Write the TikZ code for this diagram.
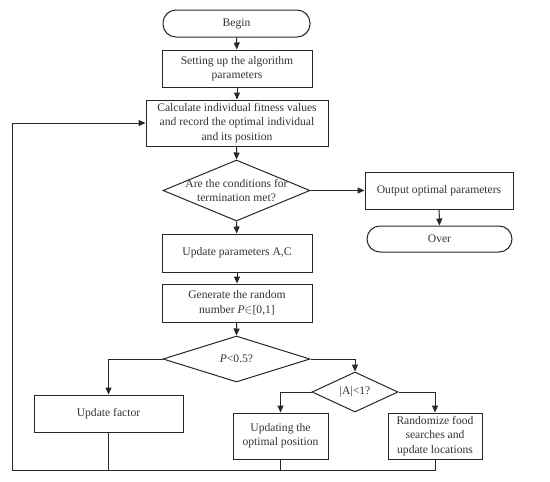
\documentclass[tikz,border=0pt]{standalone}
\usepackage{fontspec}
\setmainfont{Liberation Serif}
\usetikzlibrary{shapes.geometric,arrows.meta}
\begin{document}
\begin{tikzpicture}[x=1pt,y=-1pt,
  every node/.style={font=\fontsize{11.6}{14.3}\selectfont, text=black!80, align=center},
  box/.style={draw=black!85, line width=1pt, rectangle, inner sep=0pt},
  term/.style={draw=black!85, line width=1pt, rectangle, rounded corners=13pt, inner sep=0pt},
  dia/.style={draw=black!85, line width=1pt, diamond, inner sep=0pt},
  line/.style={draw=black!85, line width=1pt},
  arr/.style={line, -{Triangle[length=7pt,width=6pt]}}]
\useasboundingbox (0,0) rectangle (550,482);
% nodes
\node[term, minimum width=147pt, minimum height=27pt] (begin) at (236.5,23.5) {Begin};
\node[box, minimum width=150pt, minimum height=37pt] (setup) at (237,68.5) {Setting up the algorithm\\parameters};
\node[box, minimum width=182pt, minimum height=46pt] (calc) at (237,123) {Calculate individual fitness values\\and record the optimal individual\\and its position};
\node[dia, minimum width=147pt, minimum height=61pt] (d1) at (236.5,190.5) {};
\node (d1t) at (236.5,190.5) {Are the conditions for\\termination met?};
\node[box, minimum width=148pt, minimum height=37pt] (out) at (439,190.5) {Output optimal parameters};
\node[term, minimum width=145pt, minimum height=26pt] (over) at (439.5,239) {Over};
\node[box, minimum width=150pt, minimum height=38pt] (upd) at (237,253) {Update parameters A,C};
\node[box, minimum width=150pt, minimum height=38pt] (gen) at (237,303) {Generate the random\\number \textit{P}$\in$[0,1]};
\node[dia, minimum width=147pt, minimum height=46pt] (d2) at (236.5,359) {};
\node (d2t) at (236.5,359) {\textit{P}<0.5?};
\node[dia, minimum width=86pt, minimum height=40pt] (d3) at (355,392) {};
\node (d3t) at (355,392) {|A|<1?};
\node[box, minimum width=149pt, minimum height=37pt] (fac) at (108.5,413.5) {Update factor};
\node[box, minimum width=95pt, minimum height=46pt] (opt) at (280.5,436) {Updating the\\optimal position};
\node[box, minimum width=94pt, minimum height=46pt] (rnd) at (435,436) {Randomize food\\searches and\\update locations};
% loop coordinates
\coordinate (bl) at (12,470);
\coordinate (tl) at (12,123);
\coordinate (br) at (435,470);
% connectors
\draw[arr] (begin) -- (setup);
\draw[arr] (setup) -- (calc);
\draw[arr] (calc) -- (d1.north);
\draw[arr] (d1.east) -- (out.west);
\draw[arr] (out) -- (over);
\draw[arr] (d1.south) -- (upd);
\draw[arr] (upd) -- (gen);
\draw[arr] (gen) -- (d2.north);
\draw[arr] (d2.west) -| (fac.north);
\draw[arr] (d2.east) -| (d3.north);
\draw[arr] (d3.west) -| (opt.north);
\draw[arr] (d3.east) -| (rnd.north);
\draw[arr] (rnd.south) -- (br) -- (bl) -- (tl) -- (calc.west);
\draw[line] (fac.south) -- (fac.south |- bl);
\draw[line] (opt.south) -- (opt.south |- bl);
\end{tikzpicture}
\end{document}
